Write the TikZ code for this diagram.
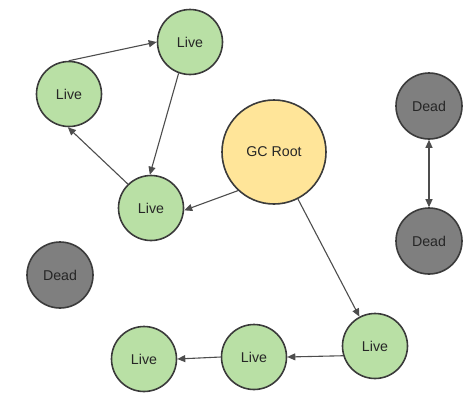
\documentclass[tikz,border=0pt]{standalone}
\usepackage{fontspec}
\setmainfont{Liberation Sans}
\usetikzlibrary{arrows.meta}
\definecolor{livefill}{HTML}{B9E0A5}
\definecolor{rootfill}{HTML}{FFE599}
\definecolor{deadfill}{HTML}{7F7F7F}
\definecolor{edgec}{HTML}{3B3B3B}
\definecolor{arrc}{HTML}{4D4D4D}
\tikzset{
  obj/.style={circle, draw=edgec, line width=1.6pt, inner sep=0pt, font=\fontsize{14.2}{16}\selectfont, text=black!85},
  live/.style={obj, fill=livefill, minimum size=65pt},
  dead/.style={obj, fill=deadfill, minimum size=66pt},
  root/.style={obj, fill=rootfill, minimum size=104pt},
  ref/.style={draw=arrc, line width=1.1pt, -{Triangle[length=8pt,width=7pt]}},
  bref/.style={draw=arrc, line width=1.1pt, {Triangle[length=8pt,width=7pt]}-{Triangle[length=8pt,width=7pt]}}
}
\begin{document}
\begin{tikzpicture}[x=1pt,y=-1pt]
\useasboundingbox (0,0) rectangle (474,408);
\node[live] (t) at (190,42) {Live};
\node[live] (l) at (69,94) {Live};
\node[live] (m) at (151,208) {Live};
\node[root] (g) at (274,152) {GC Root};
\node[dead] (dt) at (429,106) {Dead};
\node[dead] (db) at (429,241) {Dead};
\node[dead] (dl) at (60,275) {Dead};
\node[live] (br) at (375,346) {Live};
\node[live] (bm) at (254,357) {Live};
\node[live] (bl) at (144,359) {Live};
\draw[ref] (l.90) -- (t.180);
\draw[ref] (t.250) -- (m.92);
\draw[ref] (m.134) -- (l.268);
\draw[ref] (g.227) -- (m.356);
\draw[ref] (g.297) -- (br.118);
\draw[bref] (dt.south) -- (db.north);
\draw[ref] (br.197) -- (bm.0);
\draw[ref] (bm.180) -- (bl.0);
\end{tikzpicture}
\end{document}
